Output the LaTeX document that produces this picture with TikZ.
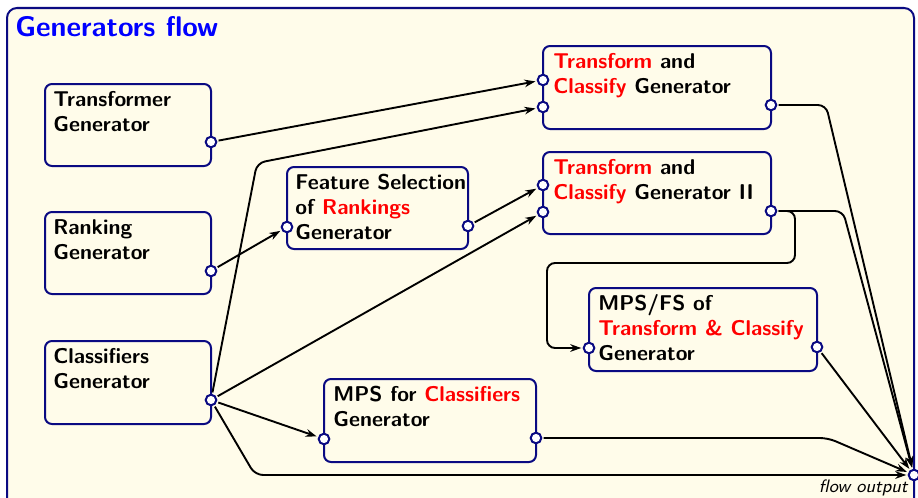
\documentclass[tikz,border=0pt]{standalone}
\usetikzlibrary{arrows.meta,calc}
\definecolor{paper}{RGB}{255,252,234}
\definecolor{frameblue}{RGB}{10,10,130}
\definecolor{titleblue}{RGB}{0,0,255}
\definecolor{hot}{RGB}{255,0,0}
\newcommand\hl[1]{\textcolor{hot}{#1}}
\begin{document}
\begin{tikzpicture}[x=0.5pt,y=-0.5pt,
  frame/.style={draw=frameblue, fill=paper, line width=1pt, rounded corners=5pt,
    anchor=north west, inner sep=0pt, outer sep=0pt},
  gbox/.style={draw=frameblue, fill=paper, line width=1pt, rounded corners=3.5pt,
    anchor=north west, inner sep=0pt, outer sep=0pt},
  port/.style={circle, draw=frameblue, fill=white, line width=1pt,
    minimum size=5.3pt, inner sep=0pt, outer sep=1.2pt},
  boxtext/.style={anchor=north west, inner sep=0pt, align=left,
    font=\sffamily\bfseries\fontsize{10.7}{12.6}\selectfont},
  conn/.style={draw=black, line width=0.95pt, rounded corners=4pt,
    -{Stealth[length=5.5pt,width=3.8pt]}}
]
\useasboundingbox (0,0) rectangle (918,498);
\clip (0,0) rectangle (918,498);

% outer frame and title
\node[frame, minimum width=453.5pt, minimum height=256pt] (frame) at (7,8) {};
\node[anchor=base west, inner sep=0pt, text=titleblue,
  font=\sffamily\bfseries\fontsize{14.2}{16}\selectfont] (title) at (15,36) {Generators flow};

% generator boxes
\node[gbox, minimum width=83pt, minimum height=41pt] (tg) at (45,84) {};
\node[gbox, minimum width=83pt, minimum height=41pt] (rg) at (45,212) {};
\node[gbox, minimum width=83pt, minimum height=41.5pt] (cg) at (45,341) {};
\node[gbox, minimum width=90.5pt, minimum height=41pt] (fs) at (287,167) {};
\node[gbox, minimum width=106pt, minimum height=41.5pt] (mc) at (324,379) {};
\node[gbox, minimum width=114pt, minimum height=41.5pt] (tc) at (543,46) {};
\node[gbox, minimum width=114pt, minimum height=41pt] (t2) at (543,152) {};
\node[gbox, minimum width=114pt, minimum height=41.5pt] (mf) at (589,288) {};

% box captions
\node[boxtext] (tg-t) at ($(tg.north west)+(8,4)$) {\strut Transformer\\Generator};
\node[boxtext] (rg-t) at ($(rg.north west)+(8,4)$) {\strut Ranking\\Generator};
\node[boxtext] (cg-t) at ($(cg.north west)+(8,4)$) {\strut Classifiers\\Generator};
\node[boxtext] (fs-t) at ($(fs.north west)+(8,4)$) {\strut Feature Selection\\of \hl{Rankings}\\Generator};
\node[boxtext] (mc-t) at ($(mc.north west)+(9,4)$) {\strut MPS for \hl{Classifiers}\\Generator};
\node[boxtext] (tc-t) at ($(tc.north west)+(10,4)$) {\strut \hl{Transform} and\\\hl{Classify} Generator};
\node[boxtext] (t2-t) at ($(t2.north west)+(10,4)$) {\strut \hl{Transform} and\\\hl{Classify} Generator II};
\node[boxtext] (mf-t) at ($(mf.north west)+(9,4)$) {\strut MPS/FS of\\\hl{Transform \& Classify}\\Generator};

% ports
\node[port] (tg-o) at ($(tg.north east)+(0,58)$) {};
\node[port] (rg-o) at ($(rg.north east)+(0,59)$) {};
\node[port] (cg-o) at ($(cg.north east)+(0,59)$) {};
\node[port] (fs-i) at ($(fs.north west)+(0,60)$) {};
\node[port] (fs-o) at ($(fs.north east)+(0,59)$) {};
\node[port] (mc-i) at ($(mc.north west)+(0,60)$) {};
\node[port] (mc-o) at ($(mc.north east)+(0,59)$) {};
\node[port] (tc-i1) at ($(tc.north west)+(0,34)$) {};
\node[port] (tc-i2) at ($(tc.north west)+(0,61)$) {};
\node[port] (tc-o) at ($(tc.north east)+(0,59)$) {};
\node[port] (t2-i1) at ($(t2.north west)+(0,33)$) {};
\node[port] (t2-i2) at ($(t2.north west)+(0,60)$) {};
\node[port] (t2-o) at ($(t2.north east)+(0,59)$) {};
\node[port] (mf-i) at ($(mf.north west)+(0,60)$) {};
\node[port] (mf-o) at ($(mf.north east)+(0,59)$) {};
\node[port] (fo) at (914,475) {};
\node[anchor=base east, inner sep=0pt, font=\sffamily\itshape\fontsize{9}{10}\selectfont]
  (fo-t) at (908,492) {flow output};

% routing points
\coordinate (w-up) at (257,163);
\coordinate (w-down) at (255,475);
\coordinate (w-tc) at (826,105);
\coordinate (w-t2) at (843,211);
\coordinate (w-r1) at (795,211);
\coordinate (w-r2) at (795,263);
\coordinate (w-r3) at (547,263);
\coordinate (w-r4) at (547,348);
\coordinate (w-mc) at (828,438);

% connectors
\draw[conn] (tg-o) -- (tc-i1);
\draw[conn] (cg-o) -- (w-up) -- (tc-i2);
\draw[conn] (rg-o) -- (fs-i);
\draw[conn] (fs-o) -- (t2-i1);
\draw[conn] (cg-o) -- (t2-i2);
\draw[conn] (cg-o) -- (mc-i);
\draw[conn] (cg-o) -- (w-down) -- (fo);
\draw[conn] (tc-o) -- (w-tc) -- (fo);
\draw[conn] (t2-o) -- (w-t2) -- (fo);
\draw[conn] (t2-o) -- (w-r1) -- (w-r2) -- (w-r3) -- (w-r4) -- (mf-i);
\draw[conn] (mf-o) -- (fo);
\draw[conn] (mc-o) -- (w-mc) -- (fo);
\end{tikzpicture}
\end{document}
